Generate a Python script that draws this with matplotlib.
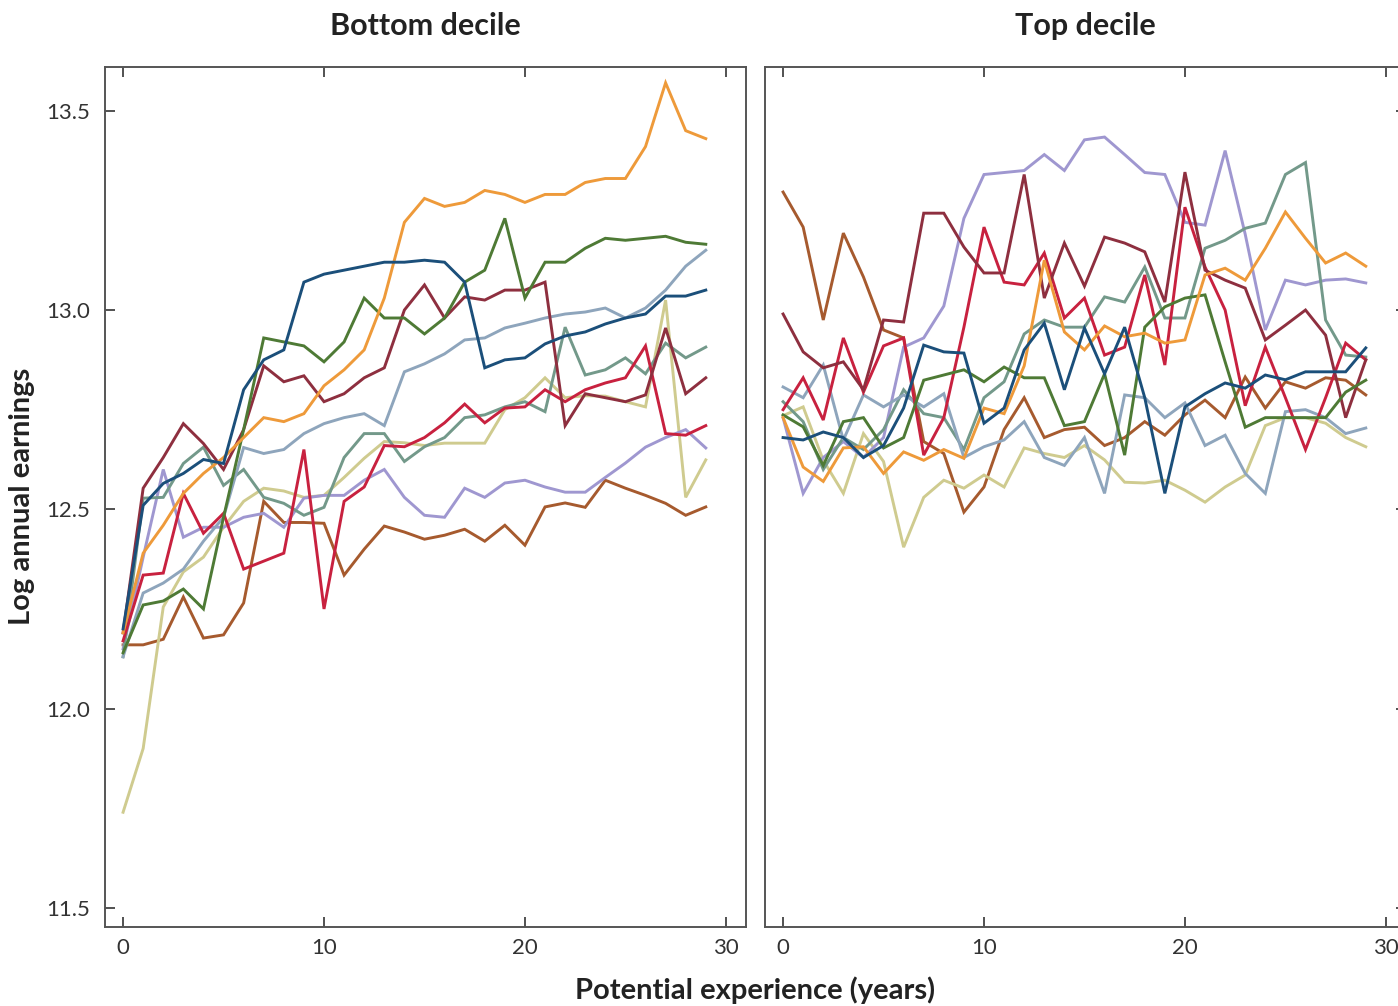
import matplotlib
matplotlib.use("Agg")
import matplotlib.pyplot as plt

plt.rcParams['font.family'] = ['Lato', 'DejaVu Sans']

years = list(range(30))

# Bottom decile
orange_L = [12.19, 12.39, 12.46, 12.54, 12.59, 12.63, 12.68, 12.73, 12.72, 12.74, 12.81, 12.85, 12.90, 13.03, 13.22,
            13.28, 13.26, 13.27, 13.30, 13.29, 13.27, 13.29, 13.29, 13.32, 13.33, 13.33, 13.41, 13.57, 13.45, 13.43]
green_L = [12.14, 12.26, 12.27, 12.30, 12.25, 12.48, 12.70, 12.93, 12.92, 12.91, 12.87, 12.92, 13.03, 12.98, 12.98,
           12.94, 12.98, 13.07, 13.10, 13.23, 13.03, 13.12, 13.12, 13.155, 13.18, 13.175, 13.18, 13.185, 13.17, 13.165]
navy_L = [12.20, 12.51, 12.565, 12.59, 12.625, 12.615, 12.80, 12.875, 12.90, 13.07, 13.09, 13.10, 13.11, 13.12, 13.12,
          13.125, 13.12, 13.07, 12.855, 12.875, 12.88, 12.915, 12.935, 12.945, 12.965, 12.98, 12.99, 13.035, 13.035, 13.05]
steel_L = [12.13, 12.29, 12.315, 12.35, 12.42, 12.48, 12.655, 12.64, 12.65, 12.69, 12.715, 12.73, 12.74, 12.71, 12.845,
           12.865, 12.89, 12.925, 12.93, 12.955, 12.967, 12.98, 12.99, 12.995, 13.005, 12.98, 13.005, 13.05, 13.11, 13.15]
maroon_L = [12.19, 12.553, 12.63, 12.715, 12.665, 12.60, 12.70, 12.86, 12.82, 12.835, 12.77, 12.79, 12.83, 12.855, 13.00,
            13.063, 12.98, 13.033, 13.025, 13.05, 13.05, 13.07, 12.71, 12.79, 12.78, 12.77, 12.787, 12.955, 12.79, 12.83]
crimson_L = [12.17, 12.335, 12.34, 12.54, 12.44, 12.49, 12.35, 12.37, 12.39, 12.65, 12.25, 12.52, 12.556, 12.66, 12.657,
             12.68, 12.717, 12.764, 12.717, 12.754, 12.757, 12.80, 12.77, 12.80, 12.817, 12.83, 12.91, 12.69, 12.686, 12.71]
sage_L = [12.13, 12.528, 12.53, 12.615, 12.656, 12.56, 12.60, 12.53, 12.515, 12.485, 12.505, 12.63, 12.69, 12.69, 12.62,
          12.657, 12.68, 12.73, 12.737, 12.757, 12.77, 12.745, 12.957, 12.837, 12.85, 12.88, 12.84, 12.917, 12.88, 12.907]
khaki_L = [11.74, 11.90, 12.255, 12.343, 12.38, 12.455, 12.52, 12.553, 12.546, 12.53, 12.535, 12.58, 12.628, 12.67, 12.667,
           12.66, 12.666, 12.666, 12.666, 12.75, 12.78, 12.83, 12.78, 12.785, 12.784, 12.77, 12.757, 13.025, 12.53, 12.624]
lavender_L = [12.15, 12.38, 12.60, 12.43, 12.455, 12.455, 12.48, 12.49, 12.455, 12.528, 12.535, 12.535, 12.573, 12.60, 12.53,
              12.485, 12.48, 12.553, 12.53, 12.566, 12.573, 12.556, 12.543, 12.543, 12.58, 12.616, 12.656, 12.68, 12.70, 12.654]
brown_L = [12.16, 12.16, 12.174, 12.28, 12.177, 12.185, 12.265, 12.52, 12.467, 12.467, 12.465, 12.335, 12.40, 12.458, 12.443,
           12.425, 12.435, 12.45, 12.42, 12.46, 12.41, 12.506, 12.516, 12.505, 12.573, 12.553, 12.535, 12.515, 12.485, 12.506]

# Top decile
orange_R = [12.73, 12.606, 12.57, 12.654, 12.657, 12.59, 12.644, 12.623, 12.65, 12.628, 12.754, 12.74, 12.86, 13.125, 12.945,
            12.9, 12.96, 12.933, 12.942, 12.917, 12.925, 13.088, 13.105, 13.075, 13.155, 13.246, 13.18, 13.118, 13.143, 13.11]
green_R = [12.737, 12.707, 12.61, 12.72, 12.73, 12.654, 12.68, 12.824, 12.837, 12.85, 12.82, 12.857, 12.83, 12.83, 12.71,
           12.72, 12.84, 12.636, 12.957, 13.008, 13.03, 13.038, 12.87, 12.706, 12.73, 12.73, 12.73, 12.73, 12.794, 12.824]
navy_R = [12.68, 12.674, 12.694, 12.68, 12.63, 12.66, 12.754, 12.912, 12.895, 12.892, 12.716, 12.754, 12.90, 12.967, 12.80,
          12.955, 12.84, 12.957, 12.78, 12.54, 12.757, 12.79, 12.817, 12.804, 12.837, 12.825, 12.845, 12.845, 12.845, 12.905]
steel_R = [12.807, 12.78, 12.862, 12.674, 12.787, 12.757, 12.787, 12.757, 12.79, 12.63, 12.657, 12.674, 12.72, 12.63, 12.61,
           12.68, 12.54, 12.787, 12.78, 12.73, 12.767, 12.66, 12.686, 12.59, 12.54, 12.745, 12.75, 12.73, 12.69, 12.704]
maroon_R = [12.99, 12.895, 12.855, 12.87, 12.80, 12.975, 12.97, 13.243, 13.243, 13.158, 13.093, 13.093, 13.34, 13.03, 13.168,
            13.06, 13.183, 13.168, 13.146, 13.02, 13.346, 13.10, 13.075, 13.055, 12.925, 12.962, 13.0, 12.937, 12.73, 12.875]
crimson_R = [12.75, 12.83, 12.724, 12.93, 12.794, 12.91, 12.93, 12.636, 12.73, 12.957, 13.208, 13.07, 13.063, 13.143, 12.98,
             13.03, 12.887, 12.907, 13.088, 12.862, 13.258, 13.108, 13.0, 12.76, 12.907, 12.78, 12.65, 12.78, 12.917, 12.875]
sage_R = [12.77, 12.72, 12.60, 12.68, 12.65, 12.70, 12.80, 12.74, 12.73, 12.65, 12.78, 12.82, 12.94, 12.975, 12.957,
          12.957, 13.033, 13.02, 13.108, 12.98, 12.98, 13.155, 13.175, 13.205, 13.218, 13.34, 13.37, 12.975, 12.887, 12.882]
khaki_R = [12.735, 12.757, 12.623, 12.54, 12.69, 12.62, 12.405, 12.53, 12.573, 12.553, 12.586, 12.556, 12.654, 12.64, 12.63,
           12.66, 12.624, 12.568, 12.566, 12.573, 12.548, 12.518, 12.556, 12.586, 12.71, 12.73, 12.73, 12.716, 12.68, 12.657]
lavender_R = [12.73, 12.54, 12.63, 12.67, 12.63, 12.68, 12.907, 12.93, 13.01, 13.23, 13.34, 13.345, 13.35, 13.39, 13.35,
              13.427, 13.434, 13.39, 13.345, 13.34, 13.22, 13.213, 13.40, 13.19, 12.95, 13.075, 13.063, 13.075, 13.078, 13.068]
brown_R = [13.296, 13.208, 12.975, 13.193, 13.083, 12.95, 12.93, 12.67, 12.64, 12.493, 12.556, 12.70, 12.78, 12.68, 12.70,
           12.706, 12.66, 12.68, 12.72, 12.686, 12.737, 12.774, 12.73, 12.832, 12.754, 12.82, 12.804, 12.83, 12.824, 12.787]

colors = ['#A65A2E', '#CFCB8F', '#9F97D0', '#73998A', '#8EA5BC', '#C8213F',
          '#8E2F3F', '#4E7A35', '#EE9A3A', '#1B4F7A']
left_series = [brown_L, khaki_L, lavender_L, sage_L, steel_L, crimson_L, maroon_L, green_L, orange_L, navy_L]
right_series = [brown_R, khaki_R, lavender_R, sage_R, steel_R, crimson_R, maroon_R, green_R, orange_R, navy_R]

fig = plt.figure(figsize=(13.98, 10.06), dpi=100)
ax1 = fig.add_axes([0.0751, 0.0785, 0.4585, 0.855])
ax2 = fig.add_axes([0.5472, 0.0785, 0.4585, 0.855])

spine_col = '#555555'
for ax, series, title in [(ax1, left_series, 'Bottom decile'), (ax2, right_series, 'Top decile')]:
    for s, c in zip(series, colors):
        ax.plot(years, s, color=c, lw=2.1, solid_joinstyle='miter')
    ax.set_xlim(-0.9, 31)
    ax.set_ylim(11.452, 13.61)
    ax.set_xticks([0, 10, 20, 30])
    ax.set_yticks([11.5, 12.0, 12.5, 13.0, 13.5])
    ax.set_title(title, fontsize=22, fontweight='bold', pad=23, color='#222222')
    for sp in ax.spines.values():
        sp.set_color(spine_col)
        sp.set_linewidth(1.4)
    ax.tick_params(direction='in', length=7, width=1.2, color='#333333',
                   labelsize=16, labelcolor='#333333', pad=8)

ax1.tick_params(axis='x', top=True, bottom=True)
ax1.tick_params(axis='y', left=True, right=False, pad=11)
ax1.set_yticklabels(['11.5', '12.0', '12.5', '13.0', '13.5'])

ax2.tick_params(axis='x', top=True, bottom=True)
ax2.tick_params(axis='y', left=False, right=True, labelleft=False)

fig.text(0.016, 0.507, 'Log annual earnings', rotation=90, ha='center', va='center',
         fontsize=21, fontweight='bold', color='#222222')
fig.text(0.54, 0.016, 'Potential experience (years)', ha='center', va='center',
         fontsize=21, fontweight='bold', color='#222222')

fig.savefig('out.png', dpi=100)
